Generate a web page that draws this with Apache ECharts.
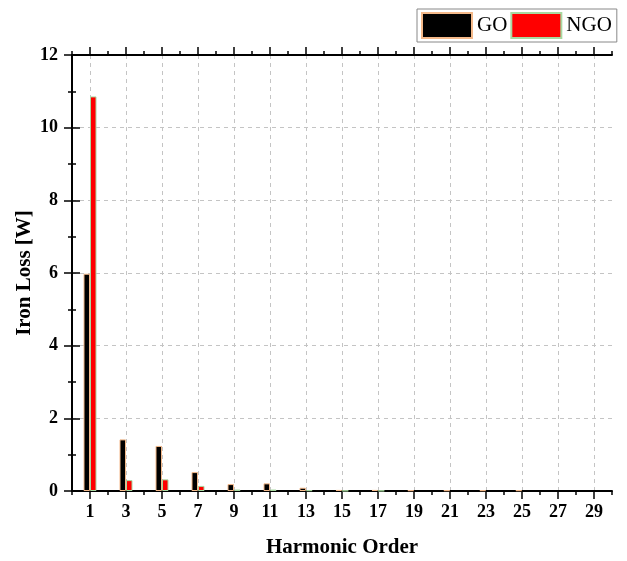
<!DOCTYPE html>
<html>
<head>
<meta charset="utf-8">
<script src="https://cdn.jsdelivr.net/npm/echarts@6/dist/echarts.min.js"></script>
<style>html,body{margin:0;padding:0;background:#fff}#c{width:627px;height:561px}</style>
</head>
<body>
<div id="c"></div>
<script>
const harmonics = [1,3,5,7,9,11,13,15,17,19,21,23,25,27,29];
const goValues  = [5.98,1.42,1.24,0.52,0.19,0.21,0.09,0.03,0.03,0.02,0.02,0.02,0.02,0,0];
const ngoValues = [10.86,0.30,0.32,0.14,0.04,0.04,0.02,0.01,0.01,0,0,0,0,0,0];
const xMajorTicks = [1,3,5,7,9,11,13,15,17,19,21,23,25,27,29];

const FONT = '"Liberation Serif","Times New Roman",serif';
const chart = echarts.init(document.getElementById('c'), null, {renderer:'canvas'});

const goData = harmonics.map((h,i)=>[h, goValues[i]]).filter(d=>d[1]>0);
const ngoData = harmonics.map((h,i)=>[h, ngoValues[i]]).filter(d=>d[1]>0);

const lineStyle = {color:'#000', width:2};
const tickStyle = {color:'#000', width:1.5};

chart.setOption({
  animation:false,
  backgroundColor:'#fff',
  grid:{left:72, right:15, top:55, bottom:70, containLabel:false, outerBoundsMode:'none'},
  legend:{
    data:['GO','NGO'],
    left:417, top:9,
    itemWidth:50, itemHeight:25, itemGap:3,
    icon:'rect',
    padding:[3,5,3,4],
    borderColor:'#888', borderWidth:1,
    textStyle:{fontFamily:FONT, fontSize:21, color:'#000'}
  },
  xAxis:[
    {type:'value', position:'bottom', min:0, max:30, interval:1,
     name:'Harmonic Order', nameLocation:'middle', nameGap:46, nameMoveOverlap:false,
     nameTextStyle:{fontFamily:FONT, fontSize:21, fontWeight:'bold', color:'#000'},
     axisLine:{show:true, lineStyle:lineStyle},
     axisTick:{show:true, length:8, lineStyle:tickStyle, customValues:xMajorTicks},
     axisLabel:{show:true, customValues:xMajorTicks, margin:12, fontFamily:FONT, fontSize:18, fontWeight:'bold', color:'#000'},
     splitLine:{show:true, lineStyle:{color:'#c4c4c4', type:[4,4], width:1}}},
    {type:'value', position:'bottom', min:0, max:30, interval:2,
     axisLine:{show:false}, axisTick:{show:true, length:4, lineStyle:tickStyle},
     axisLabel:{show:false}, splitLine:{show:false}},
    {type:'value', position:'top', min:0, max:30, interval:1,
     axisLine:{show:true, lineStyle:lineStyle},
     axisTick:{show:true, length:8, lineStyle:tickStyle, customValues:xMajorTicks},
     axisLabel:{show:false}, splitLine:{show:false}},
    {type:'value', position:'top', min:0, max:30, interval:2,
     axisLine:{show:false}, axisTick:{show:true, length:4, lineStyle:tickStyle},
     axisLabel:{show:false}, splitLine:{show:false}}
  ],
  yAxis:[
    {type:'value', position:'left', min:0, max:12, interval:2,
     name:'Iron Loss [W]', nameLocation:'middle', nameGap:37, nameRotate:90, nameMoveOverlap:false,
     nameTextStyle:{fontFamily:FONT, fontSize:21, fontWeight:'bold', color:'#000'},
     axisLine:{show:true, lineStyle:lineStyle},
     axisTick:{show:true, length:8, lineStyle:tickStyle},
     minorTick:{show:true, splitNumber:2, length:4, lineStyle:tickStyle},
     axisLabel:{show:true, margin:14, fontFamily:FONT, fontSize:18, fontWeight:'bold', color:'#000'},
     splitLine:{show:true, lineStyle:{color:'#c4c4c4', type:[4,4], width:1}}},
    {type:'value', position:'right', min:0, max:12, interval:2,
     axisLine:{show:true, lineStyle:lineStyle},
     axisTick:{show:true, length:8, lineStyle:tickStyle},
     minorTick:{show:true, splitNumber:2, length:4, lineStyle:tickStyle},
     axisLabel:{show:false}, splitLine:{show:false}}
  ],
  series:[
    {name:'GO', type:'bar', data:goData, xAxisIndex:0, yAxisIndex:0,
     barWidth:6.5, barGap:'0%',
     itemStyle:{color:'#000', borderColor:'#f4b98a', borderWidth:1}},
    {name:'NGO', type:'bar', data:ngoData, xAxisIndex:0, yAxisIndex:0,
     barWidth:6.5, barGap:'0%',
     itemStyle:{color:'#ff0000', borderColor:'#a8d8a0', borderWidth:1}}
  ]
});
</script>
</body>
</html>
